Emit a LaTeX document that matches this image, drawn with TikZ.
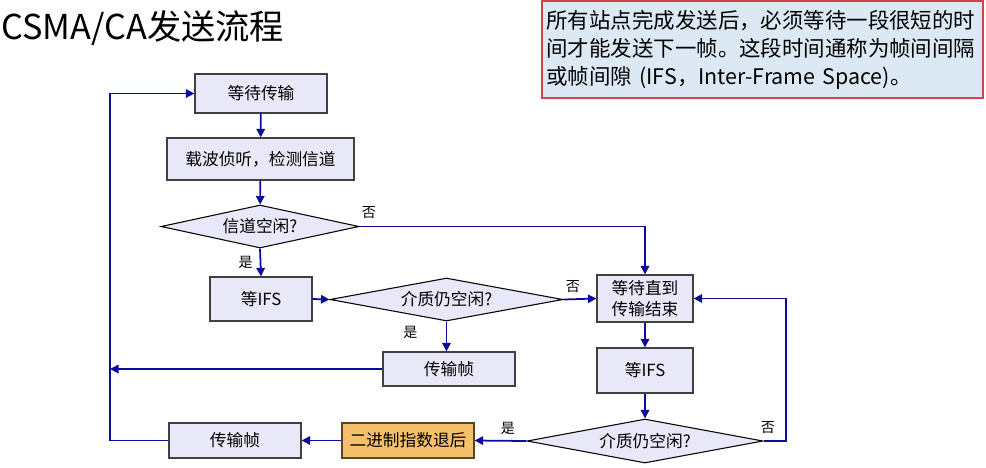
\documentclass[tikz,border=0pt]{standalone}
\usepackage{fontspec}
\setmainfont{Noto Sans CJK SC}
\usepackage{tikz}
\usetikzlibrary{shapes.geometric}
\usetikzlibrary{calc}
\usetikzlibrary{positioning, arrows.meta, shapes}
\usepackage{xcolor}
\definecolor{flowline}{HTML}{0C0C9C}
\definecolor{boxfill}{HTML}{E8E8F8}
\definecolor{boxdraw}{HTML}{404040}
\definecolor{backfill}{HTML}{F5BF6B}
\definecolor{backdraw}{HTML}{5A4424}
\definecolor{notefill}{HTML}{DCE9F5}
\definecolor{notedraw}{HTML}{D04444}

\tikzset{
  procbox/.style={draw=boxdraw, fill=boxfill, line width=0.7pt, rectangle, align=center, inner sep=0pt, font=\fontsize{9.5}{11.5}\selectfont},
  decide/.style={draw=black, fill=boxfill, line width=0.6pt, diamond, aspect=4.6, inner sep=0pt, font=\fontsize{9.5}{11.5}\selectfont},
  flow/.style={draw=flowline, line width=1pt, -{Triangle[length=0.17cm,width=0.17cm]}},
  yesno/.style={font=\fontsize{8}{9}\selectfont, inner sep=0pt}
}

\begin{document}
\begin{tikzpicture}
  \useasboundingbox (0,0) rectangle (19.72,-9.34);

  % Title
  \node[anchor=west, inner sep=0pt, font=\fontsize{19.5}{22}\selectfont] (title) at (0.02,-0.56) {CSMA/CA发送流程};

  % Note
  \node[draw=notedraw, fill=notefill, line width=0.8pt, rectangle, minimum width=8.82cm, minimum height=1.94cm, text width=8.64cm, align=left, inner sep=0pt, font=\fontsize{12.2}{15.9}\selectfont] (note) at (15.25,-0.99) {
    所有站点完成发送后，必须等待一段很短的时\\
    间才能发送下一帧。这段时间通称为帧间间隔\\
    或帧间隙 (IFS，Inter-Frame Space)。
  };

  % Left column
  \node[procbox, minimum width=2.64cm, minimum height=0.78cm] (wait) at (5.22,-1.87) {等待传输};
  \node[procbox, minimum width=3.74cm, minimum height=0.84cm] (sense) at (5.21,-3.18) {载波侦听，检测信道};
  \node[decide, minimum width=3.96cm, minimum height=0.86cm] (idle) at (5.2,-4.53) {信道空闲?};
  \node[procbox, minimum width=2.04cm, minimum height=0.88cm] (ifsa) at (5.22,-5.98) {等IFS};
  \node[decide, minimum width=4.66cm, minimum height=0.86cm] (stilla) at (8.93,-5.99) {介质仍空闲?};
  \node[procbox, minimum width=2.64cm, minimum height=0.68cm] (txa) at (8.98,-7.38) {传输帧};

  % Right column
  \node[procbox, minimum width=1.92cm, minimum height=0.94cm] (waitend) at (12.9,-5.97) {等待直到\\传输结束};
  \node[procbox, minimum width=1.92cm, minimum height=0.9cm] (ifsb) at (12.9,-7.41) {等IFS};
  \node[decide, minimum width=4.72cm, minimum height=0.88cm] (stillb) at (12.9,-8.82) {介质仍空闲?};

  % Bottom row
  \node[procbox, draw=backdraw, fill=backfill, minimum width=2.64cm, minimum height=0.7cm] (backoff) at (8.16,-8.81) {二进制指数退后};
  \node[procbox, minimum width=2.64cm, minimum height=0.7cm] (txb) at (4.7,-8.81) {传输帧};

  % Loop lines
  \coordinate (leftx) at (2.2,0);
  \coordinate (rightx) at (15.72,0);

  % Relationships
  \draw[flow] (wait) -- (sense);
  \draw[flow] (sense) -- (idle);
  \draw[flow] (idle.south) -- node[yesno, left=4pt, pos=0.5] (yesa) {是} (ifsa.north);
  \draw[flow] (idle.east) -- (waitend.north |- idle.east) -- (waitend.north);
  \node[yesno] (noa) at (7.38,-4.26) {否};
  \draw[flow] (ifsa.east) -- (stilla.west);
  \draw[flow] (stilla.east) -- (waitend.west);
  \node[yesno] (nob) at (11.46,-5.74) {否};
  \draw[flow] (stilla.south) -- node[yesno, left=16pt, pos=0.35] (yesb) {是} (stilla.south |- txa.north);
  \draw[flow] (txa.west) -- (leftx |- txa.west);
  \draw[flow] (waitend) -- (ifsb);
  \draw[flow] (ifsb) -- (stillb);
  \draw[flow] (stillb.west) -- (backoff.east);
  \node[yesno] (yesc) at (10.16,-8.56) {是};
  \draw[flow] (backoff) -- (txb);
  \draw[flow] (txb.west) -- (leftx |- txb.west) -- (leftx |- wait.west) -- (wait.west);
  \draw[flow] (stillb.east) -- (rightx |- stillb.east) -- (rightx |- waitend.east) -- (waitend.east);
  \node[yesno] (noc) at (15.36,-8.56) {否};
\end{tikzpicture}
\end{document}
